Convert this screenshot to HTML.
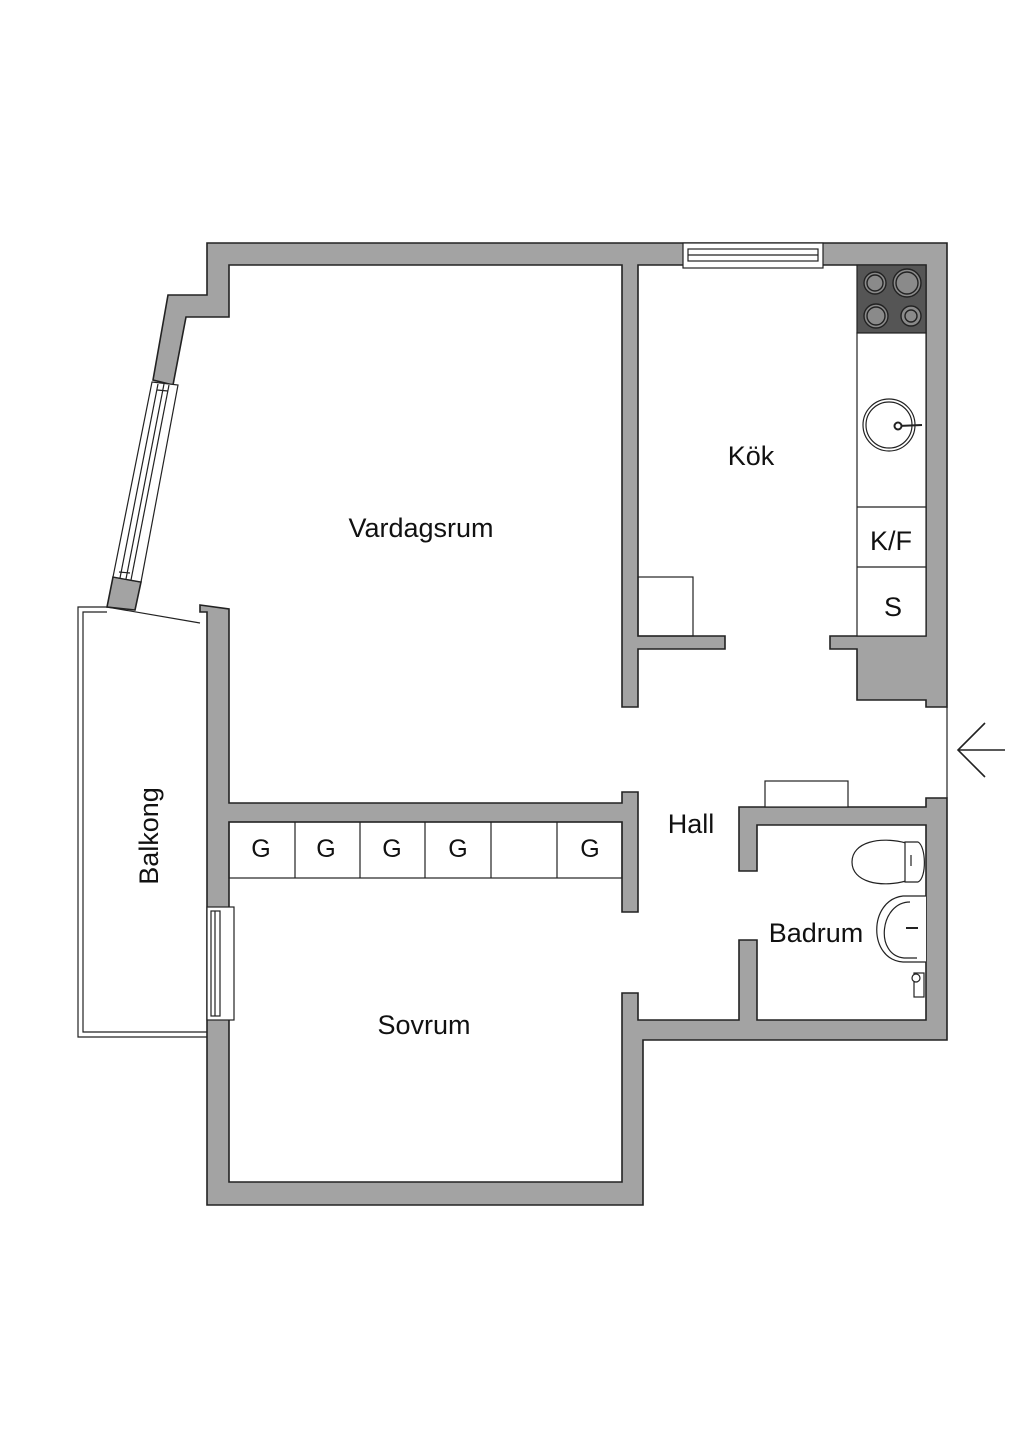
<!DOCTYPE html>
<html><head><meta charset="utf-8"><style>
html,body{margin:0;padding:0;background:#fff;}
svg{display:block;}
text{font-family:"Liberation Sans","DejaVu Sans",sans-serif;fill:#111;}
</style></head><body>
<svg width="1024" height="1448" viewBox="0 0 1024 1448" xmlns="http://www.w3.org/2000/svg">
<rect width="1024" height="1448" fill="#fff"/>
<g fill="#a3a3a3" stroke="#222" stroke-width="1.6" stroke-linejoin="miter">
<!-- upper walls -->
<polygon points="153,380 168,295 207,295 207,243 947,243 947,707 926,707 926,700 857,700 857,649 830,649 830,636 926,636 926,265 638,265 638,636 725,636 725,649 638,649 638,707 622,707 622,265 229,265 229,317 186,317 173,385"/>
<!-- lower walls -->
<polygon points="200,605 229,609 229,803 622,803 622,792 638,792 638,912 622,912 622,822 229,822 229,1182 622,1182 622,993 638,993 638,1020 739,1020 739,940 757,940 757,1020 926,1020 926,825 757,825 757,871 739,871 739,807 926,807 926,798 947,798 947,1040 643,1040 643,1205 207,1205 207,612 200,612"/>
<!-- piece below diagonal window -->
<polygon points="113,577 141,582 135,610 107,607"/>
</g>
<!-- diagonal window -->
<g fill="#fff" stroke="#222" stroke-width="1.2">
<polygon points="152,382 178,385 141,582 113,577"/>
<line x1="158" y1="384" x2="120" y2="578"/>
<line x1="164" y1="384" x2="126" y2="579"/>
<line x1="169" y1="385" x2="131" y2="580"/>
<line x1="157" y1="390" x2="168" y2="391"/>
<line x1="119" y1="572" x2="130" y2="573"/>
</g>
<!-- kitchen top window -->
<g fill="#fff" stroke="#222" stroke-width="1.2">
<rect x="683" y="243" width="140" height="25"/>
<rect x="688" y="249" width="130" height="12"/>
<line x1="688" y1="255" x2="818" y2="255"/>
</g>
<!-- bedroom window -->
<g fill="#fff" stroke="#222" stroke-width="1.2">
<rect x="207" y="907" width="27" height="113"/>
<rect x="211" y="911" width="9" height="105"/>
<line x1="215" y1="911" x2="215" y2="1016"/>
</g>
<!-- balcony -->
<g fill="none" stroke="#222" stroke-width="1.2">
<polyline points="107,607 78,607 78,1037 207,1037"/>
<polyline points="107,612 83,612 83,1032 207,1032"/>
<line x1="107" y1="607" x2="200" y2="623"/>
</g>
<!-- door opening line -->
<line x1="947" y1="707" x2="947" y2="798" stroke="#222" stroke-width="1.2"/>
<!-- arrow -->
<g stroke="#222" stroke-width="1.6" fill="none">
<line x1="958" y1="750" x2="1005" y2="750"/>
<polyline points="985,723 958,750 985,777"/>
</g>
<!-- kitchen counter -->
<g stroke="#222" stroke-width="1.2">
<rect x="857" y="265" width="69" height="68" fill="#555"/>
<rect x="857" y="333" width="69" height="303" fill="#fff"/>
<line x1="857" y1="507" x2="926" y2="507"/>
<line x1="857" y1="567" x2="926" y2="567"/>
</g>
<g stroke="#222" stroke-width="1.4" fill="#8a8a8a">
<circle cx="875" cy="283" r="11"/><circle cx="875" cy="283" r="8"/>
<circle cx="907" cy="283" r="14"/><circle cx="907" cy="283" r="11"/>
<circle cx="876" cy="316" r="12"/><circle cx="876" cy="316" r="9"/>
<circle cx="911" cy="316" r="10"/><circle cx="911" cy="316" r="6"/>
</g>
<g stroke="#222" stroke-width="1.2" fill="none">
<circle cx="889" cy="425" r="26"/><circle cx="889" cy="425" r="23"/>
<line x1="898" y1="426" x2="922" y2="425" stroke-width="2"/>
<circle cx="898" cy="426" r="3.5" fill="#fff" stroke-width="2"/>
</g>
<!-- kitchen small box -->
<rect x="638" y="577" width="55" height="59" fill="none" stroke="#222" stroke-width="1.2"/>
<!-- hall shelf -->
<rect x="765" y="781" width="83" height="26" fill="#fff" stroke="#222" stroke-width="1.2"/>
<!-- closets -->
<g stroke="#222" stroke-width="1.2" fill="none">
<rect x="229" y="822" width="393" height="56"/>
<line x1="295" y1="822" x2="295" y2="878"/>
<line x1="360" y1="822" x2="360" y2="878"/>
<line x1="425" y1="822" x2="425" y2="878"/>
<line x1="491" y1="822" x2="491" y2="878"/>
<line x1="557" y1="822" x2="557" y2="878"/>
</g>
<g font-size="25" text-anchor="middle">
<text x="261" y="857">G</text><text x="326" y="857">G</text><text x="392" y="857">G</text><text x="458" y="857">G</text><text x="590" y="857">G</text>
</g>
<!-- bathroom fixtures -->
<g stroke="#222" stroke-width="1.2" fill="#fff">
<path d="M906,843 C880,836 852,842 852,862 C852,882 880,888 906,881 Z"/>
<path d="M905,842 L918,842 C926,846 927,878 918,882 L905,882 Z"/>
<line x1="911" y1="855" x2="911" y2="866"/>
<path d="M926,896 L903,896 C868,900 868,960 903,962 L926,962"/>
<path d="M910,902 C880,902 874,955 904,958 L917,958"/>
<line x1="906" y1="928" x2="918" y2="928" stroke-width="2"/>
<rect x="914" y="973" width="10" height="24"/>
<circle cx="916" cy="978" r="4"/>
</g>
<!-- labels -->
<g font-size="27" text-anchor="middle">
<text x="421" y="537">Vardagsrum</text>
<text x="751" y="465">Kök</text>
<text x="891" y="550">K/F</text>
<text x="893" y="616">S</text>
<text x="691" y="833">Hall</text>
<text x="816" y="942">Badrum</text>
<text x="424" y="1034">Sovrum</text>
<text x="0" y="0" transform="translate(158,836) rotate(-90)">Balkong</text>
</g>
</svg>
</body></html>
